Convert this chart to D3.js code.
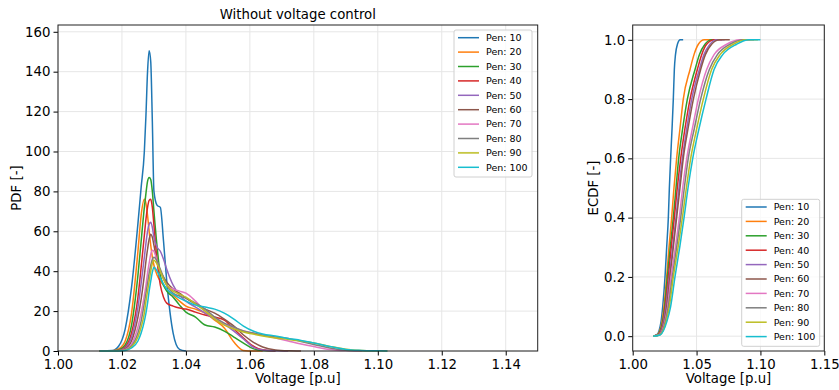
<!DOCTYPE html>
<html>
<head>
<meta charset="utf-8">
<script src="https://cdn.jsdelivr.net/npm/d3@7"></script>
<style>
  body { margin: 0; background: #fff; }
  text { font-family: "DejaVu Sans", sans-serif; fill: #000; }
</style>
</head>
<body>
<div id="chart"></div>
<script>
// DATA
const pens = ["Pen: 10", "Pen: 20", "Pen: 30", "Pen: 40", "Pen: 50", "Pen: 60", "Pen: 70", "Pen: 80", "Pen: 90", "Pen: 100"];
const colors = ["#1f77b4", "#ff7f0e", "#2ca02c", "#d62728", "#9467bd", "#8c564b", "#e377c2", "#7f7f7f", "#bcbd22", "#17becf"];

// voltage grid for the PDF curves
const voltGrid = [1.013, 1.017, 1.019, 1.021, 1.023, 1.025, 1.026, 1.027, 1.0275, 1.028, 1.0285, 1.029, 1.0295, 1.030, 1.031, 1.032, 1.033, 1.034, 1.036, 1.038, 1.040, 1.043, 1.046, 1.049, 1.052, 1.055, 1.058, 1.061, 1.064, 1.068, 1.072, 1.076, 1.080, 1.085, 1.090, 1.095, 1.100, 1.103];

const pdf10  = [0, 0.2, 2.5, 11, 32, 64, 82, 100, 118, 140, 150.5, 145, 115, 80, 73, 72, 55, 35, 9, 0.8, 0, null, null, null, null, null, null, null, null, null, null, null, null, null, null, null, null, null];
const pdf20  = [0, 0.1, 1, 5, 19, 50, 68, 76, 74, 68, 60, 53, 47, 43, 38, 35, 33, 31, 28, 25, 22.5, 21, 19, 15.5, 11.5, 4.5, 0.3, 0, 0, null, null, null, null, null, null, null, null, null];
const pdf30  = [0, 0, 0.5, 3, 13, 38, 55, 72, 79, 85, 87, 86, 80, 70, 52, 38, 33, 30, 27, 23, 19.5, 17, 13, 12, 10, 7, 4, 1.2, 0.2, 0, null, null, null, null, null, null, null, null];
const pdf40  = [0, 0, 0.3, 2, 9, 27, 42, 58, 66, 72, 75.5, 76, 72, 63, 45, 33, 27, 24, 22.5, 21.5, 21, 19.5, 18, 17, 15.5, 11, 6.5, 2.5, 0.6, 0, null, null, null, null, null, null, null, null];
const pdf50  = [0, 0, 0.2, 1.5, 7, 22, 34, 47, 54, 60, 63.5, 64.5, 62, 57, 52, 50, 46, 41, 33, 28, 25, 22, 19, 16, 13.5, 10, 6, 2, 0.5, 0.1, 0, null, null, null, null, null, null, null];
const pdf60  = [0, 0, 0.1, 1, 5, 17, 26, 38, 45, 51, 56, 58.5, 57, 53, 45, 40, 37, 34.5, 31, 29, 26.5, 23.5, 21, 19, 16, 12.5, 8, 4.5, 2, 0.5, 0.1, 0, null, null, null, null, null, null];
const pdf70  = [0, 0, 0.1, 0.7, 3.5, 12, 19, 28, 33, 39, 44, 48.5, 50.5, 50, 45, 40, 36, 33, 31, 30, 29, 25, 20, 16.5, 13.5, 11.5, 10, 9, 8, 6.5, 5, 3.5, 2.2, 0.8, 0.2, 0, null, null];
const pdf80  = [0, 0, 0.1, 0.5, 2.5, 9, 15, 24, 29, 34, 39, 43, 46, 47, 45, 41, 37, 33, 29, 27.5, 26.5, 24, 21, 17, 14, 12, 10, 9, 8, 7, 6.3, 4.8, 3.3, 1.5, 0.4, 0.1, 0, null];
const pdf90  = [0, 0, 0.1, 0.4, 2, 7, 12, 19, 25, 30, 35, 40, 44, 45.5, 43.5, 40, 36, 33, 30, 28.5, 27, 23.5, 20, 16, 13, 11, 9.5, 8.5, 7.5, 6.5, 5.8, 5, 4, 2.3, 0.9, 0.3, 0.1, 0];
const pdf100 = [0, 0, 0.05, 0.3, 1.5, 5, 9, 15, 19, 24, 30, 35, 39.5, 42, 40, 36.5, 33.5, 31, 28.5, 26.5, 25, 23, 22, 21, 19, 16, 12.5, 10, 8.5, 7.5, 6.3, 5.3, 4, 2.3, 0.8, 0.3, 0.1, 0];
const pdfSeries = [pdf10, pdf20, pdf30, pdf40, pdf50, pdf60, pdf70, pdf80, pdf90, pdf100];

// ECDF: cumulative level and the voltage where each series reaches it
const ecdfLevels = [0, 0.005, 0.05, 0.1, 0.2, 0.3, 0.4, 0.5, 0.6, 0.7, 0.8, 0.9, 0.95, 0.985, 1, 1];
const ecdf10  = [1.016, 1.0190, 1.0222, 1.0235, 1.0253, 1.0266, 1.0279, 1.0287, 1.0297, 1.0308, 1.0318, 1.0326, 1.0335, 1.0350, 1.0372, 1.0395];
const ecdf20  = [1.016, 1.0193, 1.0230, 1.0245, 1.0266, 1.0284, 1.0305, 1.0323, 1.0344, 1.0370, 1.0396, 1.0449, 1.0480, 1.0514, 1.056, 1.062];
const ecdf30  = [1.016, 1.0196, 1.0234, 1.0250, 1.0271, 1.0294, 1.0318, 1.0339, 1.0360, 1.0391, 1.0428, 1.0488, 1.0522, 1.0566, 1.062, 1.066];
const ecdf40  = [1.016, 1.0199, 1.0238, 1.0255, 1.0279, 1.0302, 1.0326, 1.0349, 1.0376, 1.0409, 1.0449, 1.0506, 1.0540, 1.0579, 1.064, 1.070];
const ecdf50  = [1.016, 1.0202, 1.0242, 1.0260, 1.0287, 1.0313, 1.0339, 1.0362, 1.0389, 1.0423, 1.0462, 1.0522, 1.0558, 1.0605, 1.066, 1.072];
const ecdf60  = [1.016, 1.0205, 1.0246, 1.0266, 1.0292, 1.0318, 1.0344, 1.0370, 1.0396, 1.0433, 1.0475, 1.0532, 1.0569, 1.0618, 1.068, 1.076];
const ecdf70  = [1.016, 1.0208, 1.0252, 1.0274, 1.0300, 1.0334, 1.0365, 1.0391, 1.0423, 1.0467, 1.0514, 1.0579, 1.0637, 1.0736, 1.084, 1.092];
const ecdf80  = [1.016, 1.0211, 1.0256, 1.0279, 1.0310, 1.0344, 1.0376, 1.0404, 1.0435, 1.0482, 1.0532, 1.0600, 1.0663, 1.0762, 1.087, 1.095];
const ecdf90  = [1.016, 1.0214, 1.0262, 1.0287, 1.0318, 1.0355, 1.0389, 1.0420, 1.0454, 1.0501, 1.0553, 1.0618, 1.0684, 1.0788, 1.089, 1.098];
const ecdf100 = [1.016, 1.0217, 1.0268, 1.0297, 1.0331, 1.0368, 1.0402, 1.0433, 1.0470, 1.0519, 1.0574, 1.0637, 1.0705, 1.0814, 1.091, 1.100];
const ecdfSeries = [ecdf10, ecdf20, ecdf30, ecdf40, ecdf50, ecdf60, ecdf70, ecdf80, ecdf90, ecdf100];

const pdfYTicks = [0, 20, 40, 60, 80, 100, 120, 140, 160];
const pdfXTicks = [1.00, 1.02, 1.04, 1.06, 1.08, 1.10, 1.12, 1.14];
const cdfYTicks = [0.0, 0.2, 0.4, 0.6, 0.8, 1.0];
const cdfXTicks = [1.00, 1.05, 1.10, 1.15];

// SVG
const W = 839, H = 390;
const svg = d3.select("#chart").append("svg")
    .attr("width", W).attr("height", H);

const FONT = 13.3;

function drawPanel(opts) {
    const g = svg.append("g");
    const x = d3.scaleLinear().domain(opts.xDomain).range([opts.left, opts.right]);
    const y = d3.scaleLinear().domain(opts.yDomain).range([opts.bottom, opts.top]);

    // grid
    g.selectAll(".gx").data(opts.xTicks).join("line")
        .attr("x1", d => x(d)).attr("x2", d => x(d))
        .attr("y1", opts.top).attr("y2", opts.bottom)
        .style("stroke", "#e6e6e6").style("stroke-width", 1);
    g.selectAll(".gy").data(opts.yTicks).join("line")
        .attr("x1", opts.left).attr("x2", opts.right)
        .attr("y1", d => y(d)).attr("y2", d => y(d))
        .style("stroke", "#e6e6e6").style("stroke-width", 1);

    // lines
    const line = d3.line()
        .defined(d => d[1] != null)
        .x(d => x(d[0]))
        .y(d => y(d[1]))
        .curve(d3.curveMonotoneX);
    opts.series.forEach((pts, i) => {
        g.append("path")
            .datum(pts)
            .attr("d", line)
            .style("fill", "none")
            .style("stroke", colors[i])
            .style("stroke-width", 1.5);
    });

    // axes
    const ax = g.append("g")
        .attr("transform", `translate(0, ${opts.bottom})`)
        .call(d3.axisBottom(x).tickValues(opts.xTicks).tickFormat(opts.xFmt).tickSize(4.5).tickPadding(4.5));
    const ay = g.append("g")
        .attr("transform", `translate(${opts.left}, 0)`)
        .call(d3.axisLeft(y).tickValues(opts.yTicks).tickFormat(opts.yFmt).tickSize(4.5).tickPadding(3));
    [ax, ay].forEach(a => {
        a.select(".domain").remove();
        a.selectAll("line").style("stroke", "#000").style("stroke-width", 1);
        a.selectAll("text").style("font-size", FONT + "px").style("font-family", "DejaVu Sans");
    });

    // frame
    g.append("rect")
        .attr("x", opts.left).attr("y", opts.top)
        .attr("width", opts.right - opts.left).attr("height", opts.bottom - opts.top)
        .style("fill", "none").style("stroke", "#222").style("stroke-width", 1);

    // labels
    g.append("text")
        .attr("x", (opts.left + opts.right) / 2).attr("y", 383)
        .attr("text-anchor", "middle").style("font-size", FONT + "px")
        .text("Voltage [p.u]");
    g.append("text")
        .attr("transform", `translate(${opts.yLabelX}, ${(opts.top + opts.bottom) / 2}) rotate(-90)`)
        .attr("text-anchor", "middle").attr("dy", "0.35em").style("font-size", FONT + "px")
        .text(opts.yLabel);
    if (opts.title) {
        g.append("text")
            .attr("x", (opts.left + opts.right) / 2).attr("y", 19)
            .attr("text-anchor", "middle").style("font-size", FONT + "px")
            .text(opts.title);
    }

    // legend
    const lg = g.append("g").attr("transform", `translate(${opts.legend[0]}, ${opts.legend[1]})`);
    lg.append("rect")
        .attr("x", 0).attr("y", 0).attr("width", 78).attr("height", 147)
        .attr("rx", 2)
        .style("fill", "#fff").style("fill-opacity", 0.8)
        .style("stroke", "#d0d0d0").style("stroke-width", 1);
    pens.forEach((p, i) => {
        const yy = 7.7 + i * 14.4;
        lg.append("line")
            .attr("x1", 4).attr("x2", 25)
            .attr("y1", yy).attr("y2", yy)
            .style("stroke", colors[i]).style("stroke-width", 1.5);
        lg.append("text")
            .attr("x", 32).attr("y", yy).attr("dy", "0.35em")
            .style("font-size", "9.5px")
            .text(p);
    });
}

drawPanel({
    left: 58, right: 537.7, top: 25, bottom: 351,
    xDomain: [1.00, 1.15], yDomain: [0, 163.4],
    xTicks: pdfXTicks, yTicks: pdfYTicks,
    xFmt: d3.format(".2f"), yFmt: d3.format("d"),
    series: pdfSeries.map(s => voltGrid.map((v, i) => [v, s[i]])),
    yLabel: "PDF [-]", yLabelX: 16,
    title: "Without voltage control",
    legend: [454, 30]
});

drawPanel({
    left: 632.7, right: 824.3, top: 25, bottom: 351,
    xDomain: [1.00, 1.15], yDomain: [-0.05, 1.05],
    xTicks: cdfXTicks, yTicks: cdfYTicks,
    xFmt: d3.format(".2f"), yFmt: d3.format(".1f"),
    series: ecdfSeries.map(s => s.map((v, i) => [v, ecdfLevels[i]])),
    yLabel: "ECDF [-]", yLabelX: 593,
    legend: [741.7, 199.3]
});
</script>
</body>
</html>
